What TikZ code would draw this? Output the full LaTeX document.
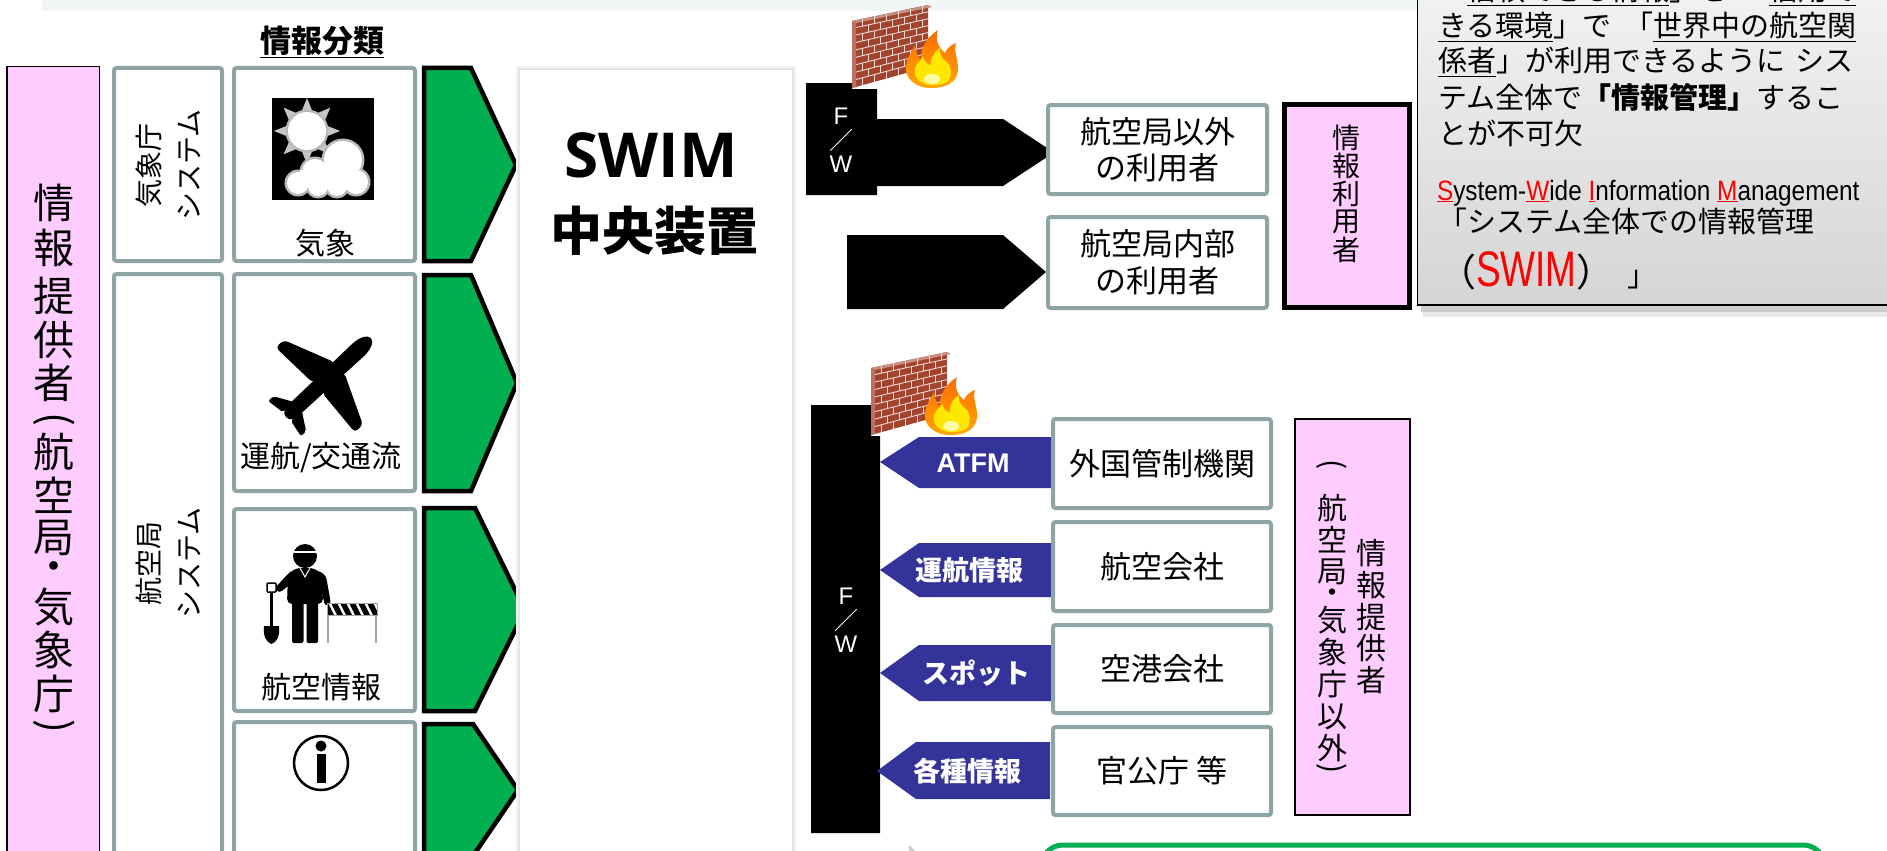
\documentclass[tikz,border=0pt]{standalone}
\usepackage{fontspec}
\usepackage{graphicx}
\setmainfont{Noto Sans CJK JP}
\newfontfamily\latinfont{Liberation Sans}
\newfontfamily\swimfont{Open Sans}
\usetikzlibrary{calc}
\newcommand\fsz[1]{\fontsize{#1}{#1}\selectfont}
\definecolor{provpink}{HTML}{FFCCFF}
\definecolor{boxteal}{HTML}{8FA5A5}
\definecolor{flowgreen}{HTML}{00B050}
\definecolor{flownavy}{HTML}{333399}
\definecolor{brickred}{HTML}{A4432D}
\definecolor{stripbg}{HTML}{F1F7F7}

\tikzset{
  plain/.style={inner sep=0pt, outer sep=0pt},
  catbox/.style={draw=boxteal, line width=4pt, rounded corners=2.5pt, fill=white, plain},
  chevron/.style={fill=flowgreen, draw=black, line width=4.5pt, line join=miter, miter limit=4},
  navyarrow/.style={fill=flownavy},
  navytext/.style={plain, text=white, font=\bfseries\fsz{27}},
  fwtext/.style={plain, text=white, font=\latinfont\fsz{24}},
  fwslash/.style={plain, text=white, font=\fsz{24}},
  vbig/.style={plain, font=\fsz{41}},
  vmid/.style={plain, font=\fsz{30}},
  vsmall/.style={plain, font=\fsz{28}},
  iconlabel/.style={plain, font=\fsz{30}},
  notebox/.style={plain, anchor=base west, font=\fsz{29}},
  firewall/.pic={
    \begin{scope}[declare function={wy(\t,\x)=(16+67*\t)*(1-\x/76)+62*\t*\x/76;}]
      % brick wall face
      \fill[brickred] (0,16) -- (76,0) -- (76,62) -- (0,83) -- cycle;
      \fill[brickred!60!white] (0,16) -- (76,0) -- (80,2) -- (4,18) -- cycle;
      \fill[brickred!75!white] (0,16) -- (4,18) -- (4,82) -- (0,83) -- cycle;
      \foreach \k in {1,...,8}
        \draw[white!80!brickred, line width=0.9pt] (4,{wy(\k/9,4)}) -- (76,{wy(\k/9,76)});
      \foreach \k in {0,...,8}
        \foreach \j in {0,...,5}{
          \pgfmathsetmacro\xx{10+12*\j+6*mod(\k,2)}
          \ifdim\xx pt<75pt
            \draw[white!80!brickred, line width=0.9pt] (\xx,{wy(\k/9,\xx)}) -- (\xx,{wy((\k+1)/9,\xx)});
          \fi
        }
      % flame
      \shade[top color=orange!85!red, bottom color=orange!70!yellow]
        (79,83) .. controls (62,83) and (52,72) .. (54,60)
        .. controls (55,52) and (60,47) .. (63,40)
        .. controls (64,48) and (66,52) .. (69,54)
        .. controls (68,44) and (74,33) .. (86,25)
        .. controls (82,36) and (88,44) .. (93,48)
        .. controls (95,43) and (99,40) .. (104,38)
        .. controls (101,46) and (107,56) .. (106,66)
        .. controls (104,78) and (94,83) .. (79,83) -- cycle;
      \fill[yellow!90!orange]
        (80,80) .. controls (68,80) and (61,72) .. (63,63)
        .. controls (65,57) and (69,56) .. (71,52)
        .. controls (73,58) and (76,60) .. (79,60)
        .. controls (78,52) and (83,46) .. (88,43)
        .. controls (87,52) and (93,56) .. (96,58)
        .. controls (99,62) and (100,70) .. (97,75)
        .. controls (94,79) and (88,80) .. (80,80) -- cycle;
      \fill[yellow!35!white] (80,74) ellipse (8 and 5);
    \end{scope}
  }
}

\begin{document}
\begin{tikzpicture}[x=1pt,y=-1pt]
\useasboundingbox (0,0) rectangle (1887,851);
\fill[white] (0,0) rectangle (1887,851);
\fill[stripbg] (42,0) rectangle (1420,11);

% ---------- information providers (left column) ----------
\draw[fill=provpink, line width=1.5pt] (6.75,66.75) rectangle (99.25,880);
\foreach \c/\yy [count=\i] in {情/203,報/248,提/296,供/340,者/383,航/452,空/495,局/538,・/572,気/607,象/650,庁/694}
  \node[vbig] (prov\i) at (54,\yy) {\c};
\node[vbig, rotate=-90] (provOpen) at (54,419) {(};
\node[vbig, rotate=-90] (provClose) at (54,726) {)};

% ---------- system columns ----------
\node[catbox, minimum width=108pt, minimum height=193pt] (sysJma) at (168,164.5) {};
\node[catbox, minimum width=108pt, minimum height=600pt] (sysJcab) at (168,574) {};
\node[plain, rotate=90, align=center, font=\fontsize{28}{40}\selectfont] (sysJmaText) at (168,165) {気象庁\\システム};
\node[plain, rotate=90, align=center, font=\fontsize{28}{40}\selectfont] (sysJcabText) at (168,563) {航空局\\システム};

% ---------- information categories ----------
\node[plain, font=\bfseries\fsz{31}] (catTitle) at (322,42) {\underline{情報分類}};
\node[catbox, minimum width=181pt, minimum height=193pt] (catWx) at (324.5,164.5) {};
\node[catbox, minimum width=181pt, minimum height=217pt] (catFlow) at (324.5,382.5) {};
\node[catbox, minimum width=181pt, minimum height=202pt] (catAis) at (324.5,610) {};
\node[catbox, minimum width=181pt, minimum height=170pt] (catEtc) at (324.5,807) {};

% weather icon
\fill (272,98) rectangle (374,200);
\foreach \a in {0,45,...,315}
  \fill[gray!45] ($(307,131)+(\a-14:21)$) -- ($(307,131)+(\a:33)$) -- ($(307,131)+(\a+14:21)$) -- cycle;
\fill[gray!55] (307,131) circle (21.5);
\fill[white] (307,131) circle (19);
\foreach \cx/\cy/\r in {343/160/19,315/172/13,298/183/11,318/186/10,337/186/10,356/182/12}
  \fill[gray!55] (\cx,\cy) circle (\r+2.5);
\foreach \cx/\cy/\r in {343/160/19,315/172/13,298/183/11,318/186/10,337/186/10,356/182/12}
  \fill[white] (\cx,\cy) circle (\r);
\fill[white] (300,170) rectangle (355,186);
\node[iconlabel] (lblWx) at (325,243) {気象};

% aircraft icon
\begin{scope}[shift={(327,379)}, rotate=43]
  \fill (-56,0) .. controls (-56,-6) and (-50,-7.5) .. (-44,-7.5) -- (42,-8.5)
        .. controls (54,-8.5) and (60,-4) .. (60,0) .. controls (60,4) and (54,8.5) .. (42,8.5)
        -- (-44,7.5) .. controls (-50,7.5) and (-56,6) .. (-56,0) -- cycle;
  \fill[rounded corners=4pt] (17,-7) -- (-5,-58) -- (-16,-58) -- (-13,-7) -- cycle;
  \fill[rounded corners=4pt] (17,7) -- (-5,58) -- (-16,58) -- (-13,7) -- cycle;
  \fill[rounded corners=2pt] (-40,-6) -- (-51,-24) -- (-58,-24) -- (-55,-6) -- cycle;
  \fill[rounded corners=2pt] (-40,6) -- (-51,24) -- (-58,24) -- (-55,6) -- cycle;
\end{scope}
\node[iconlabel] (lblFlow) at (321,458) {運航/交通流};

% aeronautical information icon (worker, shovel, barrier)
\fill (305,556) circle (12);
\draw[white, line width=2.2pt] (293.5,552) -- (316.5,552);
\fill[rounded corners=5pt] (287,604) -- (288,574) -- (296,568) -- (314,568) -- (322,574) -- (323,604) -- cycle;
\fill[rounded corners=3pt] (318,570) -- (326,576) -- (331,604) -- (325,606) -- (320,584) -- cycle;
\fill[rounded corners=3pt] (292,570) -- (286,576) -- (275,588) -- (279,593) -- (291,584) -- cycle;
\fill[rounded corners=2pt] (292,600) rectangle (303.5,643);
\fill[rounded corners=2pt] (306.5,600) rectangle (318,643);
\draw[white, line width=1pt] (300,568) -- (305,577) -- (310,568);
\draw[line width=1.5pt, fill=white, rounded corners=1pt] (267,583) rectangle (276,592);
\draw[line width=2.6pt] (271.5,592) -- (271.5,627);
\fill (264,626) -- (279,626) .. controls (280,636) and (277,642) .. (271.5,644) .. controls (266,642) and (263,636) .. (264,626) -- cycle;
\begin{scope}
  \clip (327,603) rectangle (377,615);
  \fill[white] (327,603) rectangle (377,615);
  \foreach \s in {0,...,6}
    \fill (322+\s*9,603) -- (328+\s*9,603) -- (334+\s*9,615) -- (328+\s*9,615) -- cycle;
\end{scope}
\draw[gray!70, line width=0.8pt] (327,603) rectangle (377,615);
\draw[gray!70, line width=1.2pt] (328,615) -- (328,643) (376,615) -- (376,643);
\node[iconlabel] (lblAis) at (321,687) {航空情報};

% other information icon
\draw[line width=2.5pt] (321,763) circle (27);
\fill (321,746) circle (5.5);
\fill (316.5,754) rectangle (326,783);

% ---------- flow chevrons ----------
\draw[chevron] (424,68) -- (471,68) -- (516,165) -- (471,261) -- (424,261) -- cycle;
\draw[chevron] (424,275) -- (471,275) -- (517,383) -- (471,491) -- (424,491) -- cycle;
\draw[chevron] (424,508) -- (475,508) -- (525,610) -- (475,711) -- (424,711) -- cycle;
\draw[chevron] (424,724) -- (473,724) -- (518,790) -- (473,856) -- (424,856) -- cycle;

% ---------- SWIM central system ----------
\fill[black!5] (516,66) rectangle (796,880);
\fill[black!10] (518,68) rectangle (794,880);
\fill[white] (520,70) rectangle (792,880);
\node[plain, font=\swimfont\bfseries\fsz{62}] (swimTitle) at (651,155) {SWIM};
\node[plain, font=\bfseries\fsz{52}] (swimSub) at (654,231) {中央装置};

% ---------- information users ----------
\fill (806,83) -- (852,83) -- (852,89) -- (877,89) -- (877,195) -- (806,195) -- cycle;
\pic at (852,5) {firewall};
\node[fwtext] (fwA1) at (841,116) {F};
\node[fwslash] (fwA2) at (841,140) {／};
\node[fwtext] (fwA3) at (841,164) {W};
\fill (877,119) -- (1003,119) -- (1054,152.5) -- (1003,186) -- (877,186) -- cycle;
\fill (847,235) -- (1003,235) -- (1046,272) -- (1003,309) -- (847,309) -- cycle;
\node[catbox, minimum width=219pt, minimum height=89pt, align=center, font=\fontsize{31}{36}\selectfont] (usrExt) at (1157.5,149.5) {航空局以外\\の利用者};
\node[catbox, minimum width=219pt, minimum height=91pt, align=center, font=\fontsize{31}{37}\selectfont] (usrInt) at (1157.5,262.5) {航空局内部\\の利用者};
\draw[fill=provpink, line width=5pt] (1284.5,104.5) rectangle (1409.5,307.5);
\foreach \c/\yy [count=\i] in {情/138,報/166,利/194,用/222,者/250}
  \node[vsmall] (usr\i) at (1346,\yy) {\c};

% ---------- SWIM note ----------
\fill[gray!18] (1423,312) rectangle (1900,317);
\fill[gray!38] (1421,305) rectangle (1900,312);
\shadedraw[top color=gray!8, bottom color=gray!33, draw=black, line width=1.5pt] (1417.5,-40) rectangle (1900,305);
\node[notebox] (note0) at (1438,1) {「\underline{信頼できる情報}」を\hspace{13pt}「\underline{信用で}};
\node[notebox] (note1) at (1438,37) {\underline{きる環境}」で\hspace{13pt}「\underline{世界中の航空関}};
\node[notebox] (note2) at (1438,72) {\underline{係者}」が利用できるように\hspace{10pt}シス};
\node[notebox] (note3) at (1438,108) {テム全体で{\bfseries 「情報管理」}するこ};
\node[notebox] (note4) at (1438,144) {とが不可欠};
\node[notebox, font=\latinfont\fsz{28}] (note5) at (1437,200) {\scalebox{0.87}[1]{\textcolor{red}{\underline{S}}ystem-\textcolor{red}{\underline{W}}ide \textcolor{red}{\underline{I}}nformation \textcolor{red}{\underline{M}}anagement}};
\node[notebox] (note6) at (1438,232) {「システム全体での情報管理};
\node[notebox] (note7) at (1438,286) {{\fsz{38}（}{\latinfont\fsz{50}\textcolor{red}{\scalebox{0.74}[1]{SWIM}}}{\fsz{38}）}\hspace{13pt}」};

% ---------- other information providers ----------
\fill (811,405) -- (871,405) -- (871,436) -- (880,436) -- (880,833) -- (811,833) -- cycle;
\pic at (871,352) {firewall};
\node[fwtext] (fwB1) at (846,596) {F};
\node[fwslash] (fwB2) at (846,620) {／};
\node[fwtext] (fwB3) at (846,644) {W};

\fill[navyarrow] (880,462) -- (919,437) -- (1054,437) -- (1054,488) -- (919,488) -- cycle;
\fill[navyarrow] (880,570) -- (919,543) -- (1054,543) -- (1054,597) -- (919,597) -- cycle;
\fill[navyarrow] (880,673) -- (919,645) -- (1052,645) -- (1052,701) -- (919,701) -- cycle;
\fill[navyarrow] (877,771) -- (916,742) -- (1050,742) -- (1050,799) -- (916,799) -- cycle;
\node[navytext, font=\latinfont\bfseries\fsz{27}] (flowAtfm) at (973,463) {ATFM};
\node[navytext] (flowOps) at (969,570) {運航情報};
\node[navytext] (flowSpot) at (976,673) {スポット};
\node[navytext] (flowMisc) at (967,771) {各種情報};

\node[catbox, minimum width=218pt, minimum height=89pt, font=\fsz{31}] (srcAnsp) at (1162,463.5) {外国管制機関};
\node[catbox, minimum width=218pt, minimum height=89pt, font=\fsz{31}] (srcAir) at (1162,566.5) {航空会社};
\node[catbox, minimum width=218pt, minimum height=88pt, font=\fsz{31}] (srcApt) at (1162,669) {空港会社};
\node[catbox, minimum width=218pt, minimum height=88pt, font=\fsz{31}] (srcGov) at (1162,771) {官公庁 等};

\draw[fill=provpink, line width=2pt] (1295,419) rectangle (1410,815);
\foreach \c/\yy [count=\i] in {情/553,報/585,提/617,供/648,者/680}
  \node[vmid] (srcR\i) at (1371,\yy) {\c};
\foreach \c/\yy [count=\i] in {航/508,空/540,局/572,・/596,気/620,象/652,庁/684,以/717,外/748}
  \node[vmid] (srcL\i) at (1332,\yy) {\c};
\node[vmid, rotate=-90] (srcOpen) at (1332,465) {(};
\node[vmid, rotate=-90] (srcClose) at (1332,769) {)};

% ---------- bottom ----------
\draw[flowgreen, line width=5pt, fill=white, rounded corners=22pt] (1041,845) rectangle (1825,900);
\fill[gray!40] (909,845) -- (915,851) -- (909,851) -- cycle;
\end{tikzpicture}
\end{document}
